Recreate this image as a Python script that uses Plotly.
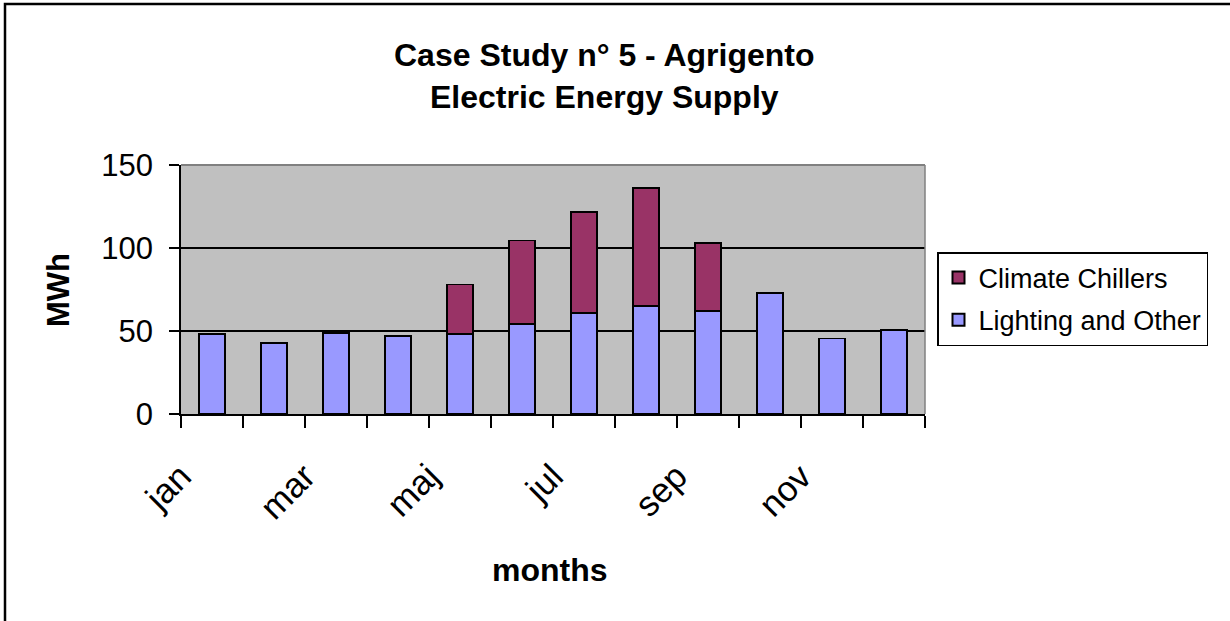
import plotly.graph_objects as go

# Monthly electric energy supply (MWh)
months = ["jan", "feb", "mar", "apr", "maj", "jun", "jul", "aug", "sep", "oct", "nov", "dec"]
lighting_other = [48, 43, 49, 47, 48, 54, 61, 65, 62, 73, 45.5, 50.5]
climate_chillers = [0, 0, 0, 0, 30, 50.5, 60.5, 71, 41, 0, 0, 0]

# only every other month gets a label on the x axis
label_idx = list(range(0, len(months), 2))
label_text = [months[i] for i in label_idx]

FONT = "Arial, Liberation Sans, sans-serif"
W, H = 1230, 621
L, R, T, B = 181, 305, 165, 207
pw, ph = W - L - R, H - T - B


def px_x(x):
    return (x - L) / pw


def px_y(y):
    return (H - B - y) / ph


x = list(range(len(months)))

fig = go.Figure()
fig.add_trace(go.Bar(
    x=x, y=lighting_other, name="Lighting and Other", width=0.42,
    legendgroup="lighting", legendrank=2,
    marker=dict(color="#9999FF", line=dict(color="black", width=1.8)),
))
fig.add_trace(go.Bar(
    x=x, y=climate_chillers, name="Climate Chillers", width=0.42,
    legendgroup="chillers", legendrank=1,
    marker=dict(color="#993366", line=dict(color="black", width=1.8)),
))

fig.update_layout(
    width=W, height=H,
    margin=dict(l=L, r=R, t=T, b=B, pad=0),
    barmode="stack",
    paper_bgcolor="white",
    plot_bgcolor="#C0C0C0",
    font=dict(family=FONT, color="black"),
    showlegend=True,
    legend=dict(
        x=px_x(937), y=px_y(252), xanchor="left", yanchor="top",
        traceorder="grouped",
        bgcolor="white", bordercolor="black", borderwidth=1.5,
        font=dict(family=FONT, size=27, color="black"),
        itemsizing="constant",
        tracegroupgap=4,
    ),
    xaxis=dict(
        range=[-0.5, len(months) - 0.5],
        tickmode="array", tickvals=[i - 0.5 for i in label_idx], ticktext=label_text,
        tickangle=-45, ticks="", showgrid=False, zeroline=False,
        ticklabelstandoff=26,
        tickfont=dict(family=FONT, size=35, color="black"),
        showline=True, linecolor="black", linewidth=1.8,
        minor=dict(
            tickvals=[i - 0.5 for i in range(len(months) + 1)],
            ticks="outside", ticklen=12, tickwidth=1.8, tickcolor="black",
            showgrid=False,
        ),
        fixedrange=True,
    ),
    yaxis=dict(
        range=[0, 150], tickmode="linear", tick0=0, dtick=50,
        ticks="outside", ticklen=10, tickwidth=1.8, tickcolor="black",
        ticklabelstandoff=10,
        tickfont=dict(family=FONT, size=31, color="black"),
        showgrid=True, gridcolor="black", gridwidth=1.5,
        zeroline=False,
        showline=True, linecolor="black", linewidth=1.8,
        fixedrange=True,
    ),
    annotations=[
        dict(text="<b>Case Study n° 5 - Agrigento</b>", x=px_x(604), y=px_y(55),
             xref="paper", yref="paper", showarrow=False, xanchor="center", yanchor="middle",
             font=dict(family=FONT, size=32, color="black")),
        dict(text="<b>Electric Energy Supply</b>", x=px_x(604), y=px_y(97),
             xref="paper", yref="paper", showarrow=False, xanchor="center", yanchor="middle",
             font=dict(family=FONT, size=32, color="black")),
        dict(text="<b>MWh</b>", x=px_x(58), y=px_y(290), textangle=-90,
             xref="paper", yref="paper", showarrow=False, xanchor="center", yanchor="middle",
             font=dict(family=FONT, size=31, color="black")),
        dict(text="<b>months</b>", x=px_x(550), y=px_y(570),
             xref="paper", yref="paper", showarrow=False, xanchor="center", yanchor="middle",
             font=dict(family=FONT, size=32, color="black")),
    ],
    shapes=[
        # gray frame on top and right of the plot area
        dict(type="line", xref="x domain", yref="y domain", x0=0, x1=1, y0=1, y1=1,
             line=dict(color="#808080", width=2), layer="above"),
        dict(type="line", xref="x domain", yref="y domain", x0=1, x1=1, y0=0, y1=1,
             line=dict(color="#808080", width=1.5), layer="above"),
        # outer chart frame
        dict(type="rect", xref="paper", yref="paper",
             x0=px_x(5), x1=px_x(1245), y0=px_y(640), y1=px_y(4),
             line=dict(color="black", width=2.5), fillcolor="rgba(0,0,0,0)", layer="above"),
    ],
)

fig.write_html("out.html")
